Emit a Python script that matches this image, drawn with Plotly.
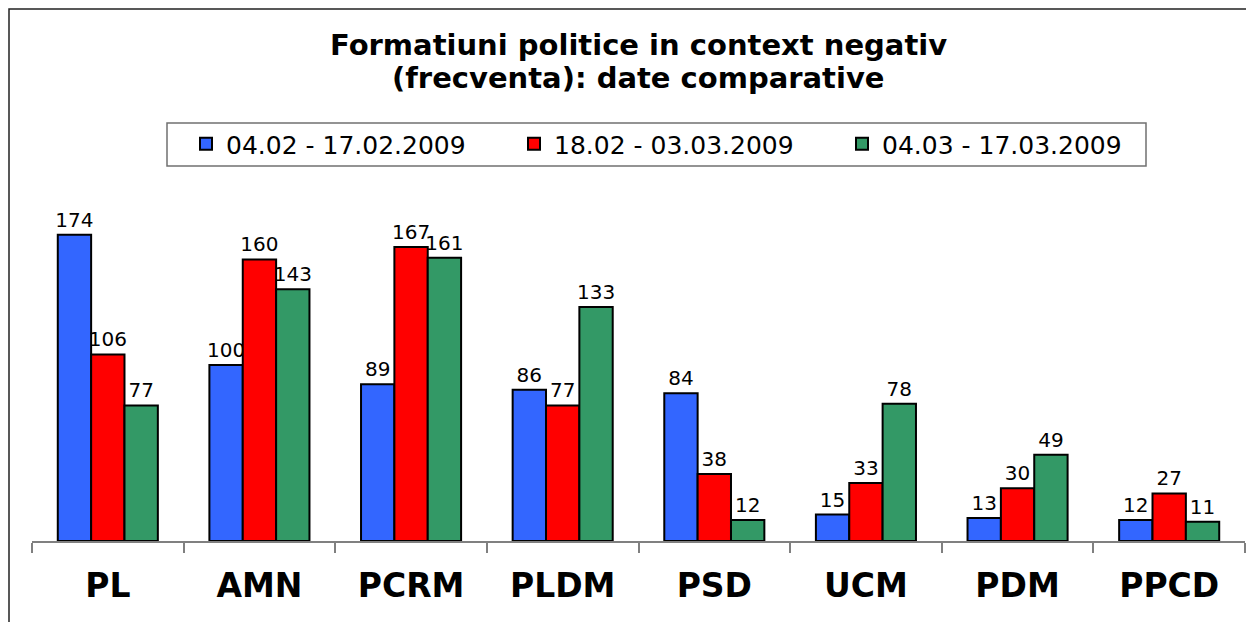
import plotly.graph_objects as go

categories = ["PL", "AMN", "PCRM", "PLDM", "PSD", "UCM", "PDM", "PPCD"]
series_names = ["04.02 - 17.02.2009", "18.02 - 03.03.2009", "04.03 - 17.03.2009"]
period1 = [174, 100, 89, 86, 84, 15, 13, 12]
period2 = [106, 160, 167, 77, 38, 33, 30, 27]
period3 = [77, 143, 161, 133, 12, 78, 49, 11]
colors = ["#3366FF", "#FF0000", "#339966"]

OFF = 8  # browser body margin
W, H = 1254 - OFF, 622 - OFF
L, R, T, B = 32 - OFF, 9, 189 - OFF, 81
pw, ph = W - L - R, H - T - B

def px_x(x):  # screen x -> paper
    return (x - OFF - L) / pw

def px_y(y):  # screen y -> paper
    return (H - B - (y - OFF)) / ph

FONT = "DejaVu Sans, Verdana, sans-serif"

fig = go.Figure()
for name, vals, col in zip(series_names, [period1, period2, period3], colors):
    fig.add_trace(go.Bar(
        x=categories, y=vals, name=name,
        marker=dict(color=col, line=dict(color="black", width=2)),
        text=vals, textposition="outside", cliponaxis=False, constraintext="none",
        textfont=dict(family=FONT, size=20, color="black"),
    ))

fig.update_layout(
    width=W, height=H,
    margin=dict(l=L, r=R, t=T, b=B),
    paper_bgcolor="white", plot_bgcolor="white",
    barmode="group", bargap=0.34, bargroupgap=0,
    showlegend=True,
    legend=dict(
        orientation="h", x=px_x(186), xanchor="left",
        y=px_y(144), yanchor="middle",
        font=dict(family=FONT, size=25, color="black"),
        bgcolor="rgba(0,0,0,0)", borderwidth=0,
        entrywidth=283, entrywidthmode="pixels",
    ),
    xaxis=dict(
        showline=True, linecolor="#808080", linewidth=1.5,
        ticks="outside", tickcolor="#808080", ticklen=10, tickwidth=1.5,
        tickson="boundaries", showgrid=False,
        tickfont=dict(family=FONT, size=33, color="black", weight="bold"),
        ticklabelstandoff=15,
    ),
    yaxis=dict(range=[0, 200], visible=False, showgrid=False, zeroline=False),
    annotations=[
        dict(text="Formatiuni politice in context negativ", xref="paper", yref="paper",
             x=px_x(639), y=px_y(45), xanchor="center", yanchor="middle", showarrow=False,
             font=dict(family=FONT, size=29, color="black", weight="bold")),
        dict(text="(frecventa): date comparative", xref="paper", yref="paper",
             x=px_x(639), y=px_y(78), xanchor="center", yanchor="middle", showarrow=False,
             font=dict(family=FONT, size=29, color="black", weight="bold")),
    ],
    shapes=[
        dict(type="rect", xref="paper", yref="paper",
             x0=px_x(9), x1=px_x(1300), y0=px_y(680), y1=px_y(9),
             line=dict(color="#222222", width=1.5), fillcolor="rgba(0,0,0,0)", layer="below"),
        dict(type="rect", xref="paper", yref="paper",
             x0=px_x(167), x1=px_x(1146), y0=px_y(166), y1=px_y(123),
             line=dict(color="#707070", width=1.5), fillcolor="rgba(0,0,0,0)", layer="below"),
    ],
)

fig.write_html("out.html")
